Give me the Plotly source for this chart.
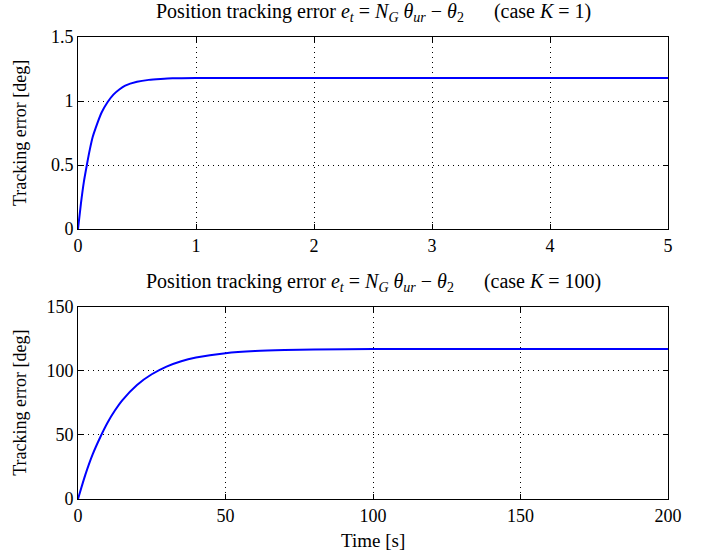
import plotly.graph_objects as go
from plotly.subplots import make_subplots

# Case K = 1 (time in s, error in deg)
t_k1 = [0, 0.025, 0.05, 0.075, 0.1, 0.125, 0.15, 0.2, 0.25, 0.3, 0.35, 0.4, 0.5, 0.6, 0.7, 0.8, 1.0, 1.5, 2.0, 3.0, 4.0, 5.0]
e_k1 = [0, 0.20, 0.37, 0.50, 0.62, 0.72, 0.79, 0.91, 0.99, 1.05, 1.09, 1.12, 1.15, 1.165, 1.172, 1.177, 1.18, 1.18, 1.18, 1.18, 1.18, 1.18]

# Case K = 100
t_k100 = [0, 2.5, 5, 7.5, 10, 12.5, 15, 20, 25, 30, 35, 40, 50, 60, 70, 80, 100, 150, 200]
e_k100 = [0, 19, 35, 48, 59.5, 69, 77, 89, 97.3, 103.3, 107.5, 110.3, 113.7, 115.4, 116.2, 116.6, 117, 117, 117]

x_ticks_k1 = [0, 1, 2, 3, 4, 5]
y_ticks_k1 = [0, 0.5, 1, 1.5]
x_ticks_k100 = [0, 50, 100, 150, 200]
y_ticks_k100 = [0, 50, 100, 150]

FONT = "Liberation Serif"
FS = 18      # tick labels
FT = 20      # subplot titles
FY = 18      # y-axis labels
FX = 19      # x-axis label
sp = "\u00a0" * 6
title1 = ("Position tracking error <i>e<sub>t</sub></i> = <i>N<sub>G</sub></i> <i>θ<sub>ur</sub></i> − <i>θ</i><sub>2</sub>"
          + sp + "(case <i>K</i> = 1)")
title2 = ("Position tracking error <i>e<sub>t</sub></i> = <i>N<sub>G</sub></i> <i>θ<sub>ur</sub></i> − <i>θ</i><sub>2</sub>"
          + sp + "(case <i>K</i> = 100)")

fig = make_subplots(rows=2, cols=1)
fig.add_trace(go.Scatter(x=t_k1, y=e_k1, mode="lines", line=dict(color="#0000ff", width=2, shape="spline", smoothing=0.6)), row=1, col=1)
fig.add_trace(go.Scatter(x=t_k100, y=e_k100, mode="lines", line=dict(color="#0000ff", width=2, shape="spline", smoothing=0.6)), row=2, col=1)

axis_common = dict(
    showline=True, linecolor="black", linewidth=1, mirror="ticks",
    ticks="inside", ticklen=5, tickcolor="black", tickwidth=1,
    showgrid=True, gridcolor="black", gridwidth=1, griddash="1px,4px",
    zeroline=False, automargin=False,
    tickfont=dict(family=FONT, size=FS, color="black"),
)

fig.update_xaxes(axis_common)
fig.update_yaxes(axis_common)

FW, FH = 708, 553
L, R, T, B = 78, 40, 37, 54
H = FH - T - B
W = FW - L - R

def py(screen_y):
    return 1 - (screen_y - T) / H

def px(screen_x):
    return (screen_x - L) / W

top_dom = [py(229), 1]
bot_dom = [0, py(306.7)]

fig.update_layout(
    width=FW, height=FH,
    margin=dict(l=L, r=R, t=T, b=B),
    paper_bgcolor="white", plot_bgcolor="white",
    showlegend=False,
    font=dict(family=FONT, size=FS, color="black"),
    xaxis=dict(domain=[0, 1], range=[0, 5], tickvals=x_ticks_k1, anchor="y"),
    yaxis=dict(domain=top_dom, range=[0, 1.5], tickvals=y_ticks_k1, anchor="x"),
    xaxis2=dict(domain=[0, 1], range=[0, 200], tickvals=x_ticks_k100, anchor="y2"),
    yaxis2=dict(domain=bot_dom, range=[0, 150], tickvals=y_ticks_k100, anchor="x2"),
    annotations=[
        dict(text=title1, x=0.5, y=py(12), xref="paper", yref="paper", xanchor="center", yanchor="middle",
             showarrow=False, font=dict(family=FONT, size=FT)),
        dict(text=title2, x=0.5, y=py(282), xref="paper", yref="paper", xanchor="center", yanchor="middle",
             showarrow=False, font=dict(family=FONT, size=FT)),
        dict(text="Tracking error [deg]", x=px(20), y=(top_dom[0] + top_dom[1]) / 2, xref="paper", yref="paper",
             xanchor="center", yanchor="middle", textangle=-90, showarrow=False, font=dict(family=FONT, size=FY)),
        dict(text="Tracking error [deg]", x=px(20), y=(bot_dom[0] + bot_dom[1]) / 2, xref="paper", yref="paper",
             xanchor="center", yanchor="middle", textangle=-90, showarrow=False, font=dict(family=FONT, size=FY)),
        dict(text="Time [s]", x=0.5, y=py(540), xref="paper", yref="paper",
             xanchor="center", yanchor="middle", showarrow=False, font=dict(family=FONT, size=FX)),
    ],
)

# remove the default 8px page margin so the figure fills the window exactly
fig.write_html("out.html", config={"displayModeBar": False},
               post_script="document.body.style.margin='0';document.body.style.overflow='hidden';")
